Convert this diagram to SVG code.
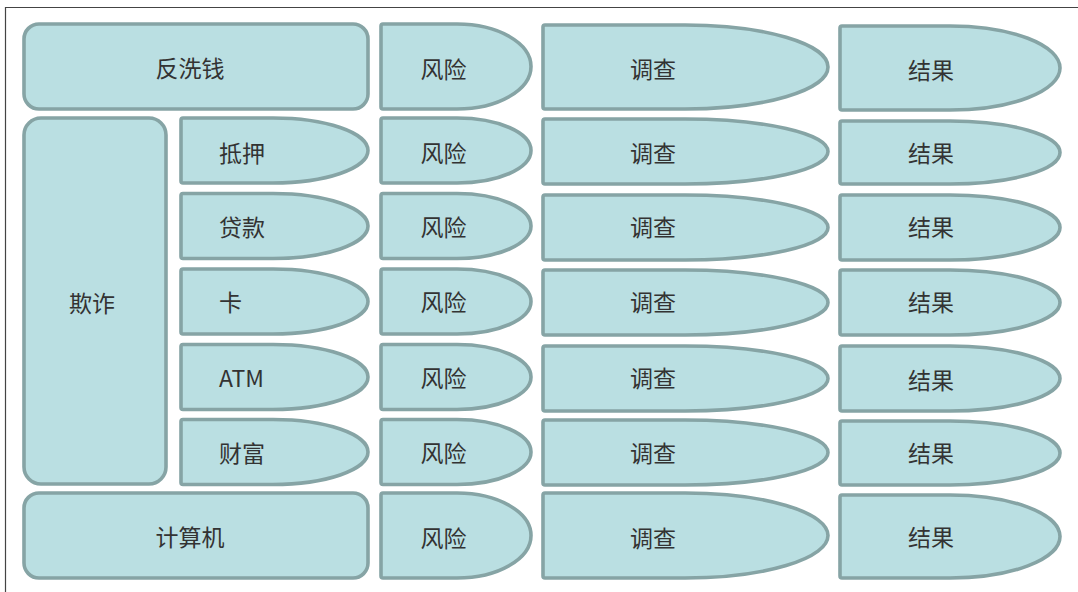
<svg xmlns="http://www.w3.org/2000/svg" width="1078" height="592" viewBox="0 0 1078 592">
<style>
.s{fill:#badfe2;stroke:#86a4a5;stroke-width:3.6;stroke-linejoin:round}
.t{font-family:"Noto Sans CJK SC","Noto Sans",sans-serif;font-size:23px;fill:#333;dominant-baseline:central}
.c{text-anchor:middle}
.frame{fill:none;stroke:#444;stroke-width:1.2}
</style>
<rect width="1078" height="592" fill="#fff"/>
<path class="frame" d="M5.5,592 V7.5 H1078"/>
<g id="aml"><rect class="s" x="24" y="24" width="344" height="85" rx="15"/><text class="t c" x="190" y="67">反洗钱</text></g>
<g id="fraud"><rect class="s" x="24" y="118" width="142" height="366" rx="17"/><text class="t c" x="92" y="302">欺诈</text></g>
<g id="computer"><rect class="s" x="24" y="493" width="344" height="85" rx="15"/><text class="t c" x="190" y="536">计算机</text></g>
<g id="mortgage"><path class="s" d="M183,118 H273 A95 32.5 0 0 1 368,150.5 A95 32.5 0 0 1 273,183 H183 Q181,183 181,181 V120 Q181,118 183,118 Z"/><text class="t" x="219" y="152">抵押</text></g>
<g id="loan"><path class="s" d="M183,193.5 H273 A95 32.5 0 0 1 368,226 A95 32.5 0 0 1 273,258.5 H183 Q181,258.5 181,256.5 V195.5 Q181,193.5 183,193.5 Z"/><text class="t" x="219" y="226">贷款</text></g>
<g id="card"><path class="s" d="M183,269 H273 A95 32.5 0 0 1 368,301.5 A95 32.5 0 0 1 273,334 H183 Q181,334 181,332 V271 Q181,269 183,269 Z"/><text class="t" x="219" y="301">卡</text></g>
<g id="atm"><path class="s" d="M183,344.5 H273 A95 32.5 0 0 1 368,377 A95 32.5 0 0 1 273,409.5 H183 Q181,409.5 181,407.5 V346.5 Q181,344.5 183,344.5 Z"/><text class="t" x="219" y="377">ATM</text></g>
<g id="wealth"><path class="s" d="M183,419.5 H273 A95 32.5 0 0 1 368,452 A95 32.5 0 0 1 273,484.5 H183 Q181,484.5 181,482.5 V421.5 Q181,419.5 183,419.5 Z"/><text class="t" x="219" y="452">财富</text></g>

<g id="risk1"><path class="s" d="M383,24 H457 A74 42.5 0 0 1 531,66.5 A74 42.5 0 0 1 457,109 H383 Q381,109 381,107 V26 Q381,24 383,24 Z"/><text class="t c" x="443.5" y="68">风险</text></g>
<g id="risk2"><path class="s" d="M383,118 H457 A74 32.5 0 0 1 531,150.5 A74 32.5 0 0 1 457,183 H383 Q381,183 381,181 V120 Q381,118 383,118 Z"/><text class="t c" x="443.5" y="152">风险</text></g>
<g id="risk3"><path class="s" d="M383,193.5 H457 A74 32.5 0 0 1 531,226 A74 32.5 0 0 1 457,258.5 H383 Q381,258.5 381,256.5 V195.5 Q381,193.5 383,193.5 Z"/><text class="t c" x="443.5" y="226">风险</text></g>
<g id="risk4"><path class="s" d="M383,269 H457 A74 32.5 0 0 1 531,301.5 A74 32.5 0 0 1 457,334 H383 Q381,334 381,332 V271 Q381,269 383,269 Z"/><text class="t c" x="443.5" y="301">风险</text></g>
<g id="risk5"><path class="s" d="M383,344.5 H457 A74 32.5 0 0 1 531,377 A74 32.5 0 0 1 457,409.5 H383 Q381,409.5 381,407.5 V346.5 Q381,344.5 383,344.5 Z"/><text class="t c" x="443.5" y="377">风险</text></g>
<g id="risk6"><path class="s" d="M383,419.5 H457 A74 32.5 0 0 1 531,452 A74 32.5 0 0 1 457,484.5 H383 Q381,484.5 381,482.5 V421.5 Q381,419.5 383,419.5 Z"/><text class="t c" x="443.5" y="452">风险</text></g>
<g id="risk7"><path class="s" d="M383,493 H457 A74 42.5 0 0 1 531,535.5 A74 42.5 0 0 1 457,578 H383 Q381,578 381,576 V495 Q381,493 383,493 Z"/><text class="t c" x="443.5" y="537">风险</text></g>

<g id="inv1"><path class="s" d="M545,25 H685 A143 42 0 0 1 828,67 A143 42 0 0 1 685,109 H545 Q543,109 543,107 V27 Q543,25 545,25 Z"/><text class="t c" x="653" y="68">调查</text></g>
<g id="inv2"><path class="s" d="M545,119 H685 A143 32.5 0 0 1 828,151.5 A143 32.5 0 0 1 685,184 H545 Q543,184 543,182 V121 Q543,119 545,119 Z"/><text class="t c" x="653" y="152">调查</text></g>
<g id="inv3"><path class="s" d="M545,195 H685 A143 32.5 0 0 1 828,227.5 A143 32.5 0 0 1 685,260 H545 Q543,260 543,258 V197 Q543,195 545,195 Z"/><text class="t c" x="653" y="226">调查</text></g>
<g id="inv4"><path class="s" d="M545,270 H685 A143 32.5 0 0 1 828,302.5 A143 32.5 0 0 1 685,335 H545 Q543,335 543,333 V272 Q543,270 545,270 Z"/><text class="t c" x="653" y="301">调查</text></g>
<g id="inv5"><path class="s" d="M545,346 H685 A143 32.5 0 0 1 828,378.5 A143 32.5 0 0 1 685,411 H545 Q543,411 543,409 V348 Q543,346 545,346 Z"/><text class="t c" x="653" y="377">调查</text></g>
<g id="inv6"><path class="s" d="M545,420 H685 A143 32.5 0 0 1 828,452.5 A143 32.5 0 0 1 685,485 H545 Q543,485 543,483 V422 Q543,420 545,420 Z"/><text class="t c" x="653" y="452">调查</text></g>
<g id="inv7"><path class="s" d="M545,493 H685 A143 42.5 0 0 1 828,535.5 A143 42.5 0 0 1 685,578 H545 Q543,578 543,576 V495 Q543,493 545,493 Z"/><text class="t c" x="653" y="537">调查</text></g>

<g id="res1"><path class="s" d="M842,26 H950 A110 42 0 0 1 1060,68 A110 42 0 0 1 950,110 H842 Q840,110 840,108 V28 Q840,26 842,26 Z"/><text class="t c" x="931" y="69">结果</text></g>
<g id="res2"><path class="s" d="M842,121 H950 A110 31.5 0 0 1 1060,152.5 A110 31.5 0 0 1 950,184 H842 Q840,184 840,182 V123 Q840,121 842,121 Z"/><text class="t c" x="931" y="152">结果</text></g>
<g id="res3"><path class="s" d="M842,195 H950 A110 32.5 0 0 1 1060,227.5 A110 32.5 0 0 1 950,260 H842 Q840,260 840,258 V197 Q840,195 842,195 Z"/><text class="t c" x="931" y="226">结果</text></g>
<g id="res4"><path class="s" d="M842,270 H950 A110 32.5 0 0 1 1060,302.5 A110 32.5 0 0 1 950,335 H842 Q840,335 840,333 V272 Q840,270 842,270 Z"/><text class="t c" x="931" y="301">结果</text></g>
<g id="res5"><path class="s" d="M842,346 H950 A110 32.5 0 0 1 1060,378.5 A110 32.5 0 0 1 950,411 H842 Q840,411 840,409 V348 Q840,346 842,346 Z"/><text class="t c" x="931" y="379">结果</text></g>
<g id="res6"><path class="s" d="M842,421 H950 A110 32 0 0 1 1060,453 A110 32 0 0 1 950,485 H842 Q840,485 840,483 V423 Q840,421 842,421 Z"/><text class="t c" x="931" y="452">结果</text></g>
<g id="res7"><path class="s" d="M842,495 H950 A110 41.5 0 0 1 1060,536.5 A110 41.5 0 0 1 950,578 H842 Q840,578 840,576 V497 Q840,495 842,495 Z"/><text class="t c" x="931" y="536">结果</text></g>
<g id="connectors"></g>
</svg>
